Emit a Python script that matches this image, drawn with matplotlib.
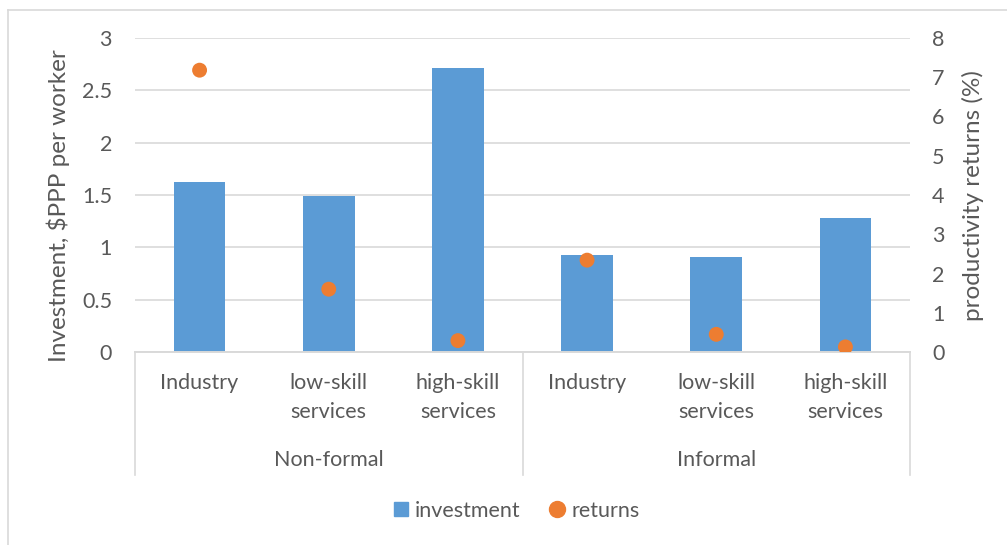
import matplotlib
matplotlib.use("Agg")
import matplotlib.pyplot as plt
from matplotlib.lines import Line2D
import numpy as np

groups = ["Non-formal", "Informal"]
categories = ["Industry", "low-skill\nservices", "high-skill\nservices",
              "Industry", "low-skill\nservices", "high-skill\nservices"]
investment = [1.62, 1.49, 2.71, 0.93, 0.91, 1.28]
returns = [7.18, 1.60, 0.29, 2.34, 0.45, 0.13]
left_ticks = [0, 0.5, 1, 1.5, 2, 2.5, 3]
left_tick_labels = ["0", "0.5", "1", "1.5", "2", "2.5", "3"]
right_ticks = [0, 1, 2, 3, 4, 5, 6, 7, 8]

TXT = "#595959"
GRID = "#d9d9d9"
BLUE = "#5B9BD5"
ORANGE = "#ED7D31"
FONT = ["Lato", "DejaVu Sans"]
plt.rcParams["font.family"] = FONT
FS = 15.5

W, H = 1007, 545
fig = plt.figure(figsize=(W / 100, H / 100), dpi=100)
x0, x1, yb, yt = 135, 910, 352, 38
ax = fig.add_axes([x0 / W, 1 - yb / H, (x1 - x0) / W, (yb - yt) / H])
ax2 = ax.twinx()

x = np.arange(len(categories))
ax.bar(x, investment, width=0.4, color=BLUE, zorder=2, label="investment")
ax.set_xlim(-0.5, len(categories) - 0.5)
ax.set_ylim(0, 3)
ax.set_yticks(left_ticks)
ax.set_yticklabels(left_tick_labels)
ax.grid(axis="y", color=GRID, linewidth=1.2, zorder=0)
ax.set_axisbelow(True)

ax2.scatter(x, returns, s=115, color=ORANGE, zorder=3, label="returns", edgecolors="none")
ax2.set_ylim(0, 8)
ax2.set_yticks(right_ticks)

for a in (ax, ax2):
    for s in ["top", "left", "right"]:
        a.spines[s].set_visible(False)
    a.spines["bottom"].set_color(GRID)
    a.spines["bottom"].set_linewidth(1.2)
    a.tick_params(axis="y", length=0, labelsize=FS, labelcolor=TXT)
ax.tick_params(axis="y", pad=16.5)
ax2.tick_params(axis="y", pad=16)

ax.set_xticks(x)
ax.set_xticklabels(categories, fontsize=FS, color=TXT, linespacing=1.6)
ax.tick_params(axis="x", length=0, pad=15)

ax.set_ylabel("Investment, $PPP per worker", fontsize=17.5, color=TXT)
ax.yaxis.set_label_coords((70 - x0) / (x1 - x0), 0.465)
ax2.set_ylabel("productivity returns (%)", fontsize=17.5, color=TXT)
ax2.yaxis.set_label_coords((962 - x0) / (x1 - x0), (352 - 196) / (yb - yt))

# group labels and separators
sep_depth = (475 - yb) / (yb - yt)
for xs in [-0.5, 2.5, 5.5]:
    ax.add_line(Line2D([xs, xs], [0, -sep_depth * 3], color=GRID, linewidth=1.2,
                       clip_on=False, zorder=1))
group_y = -(460 - yb) / (yb - yt) * 3
for i, g in enumerate(groups):
    ax.text(1 + 3 * i, group_y, g, ha="center", va="center", fontsize=FS,
            color=TXT, clip_on=False)

# legend
h1 = Line2D([], [], marker="s", linestyle="none", color=BLUE, markersize=10.5)
h2 = Line2D([], [], marker="o", linestyle="none", color=ORANGE, markersize=11.5)
fig.legend([h1, h2], ["investment", "returns"], loc="center",
           bbox_to_anchor=(516 / W, 1 - 511 / H), ncol=2, frameon=False,
           fontsize=FS, labelcolor=TXT, handletextpad=0.25, columnspacing=1.3,
           handlelength=0.8)

# chart border (left & top visible)
fig.add_artist(Line2D([8 / W, 8 / W], [0, 1 - 10 / H], color=GRID, linewidth=1.2,
                      transform=fig.transFigure))
fig.add_artist(Line2D([8 / W, 1], [1 - 10 / H, 1 - 10 / H], color=GRID, linewidth=1.2,
                      transform=fig.transFigure))

fig.savefig("out.png", dpi=100, facecolor="white")
